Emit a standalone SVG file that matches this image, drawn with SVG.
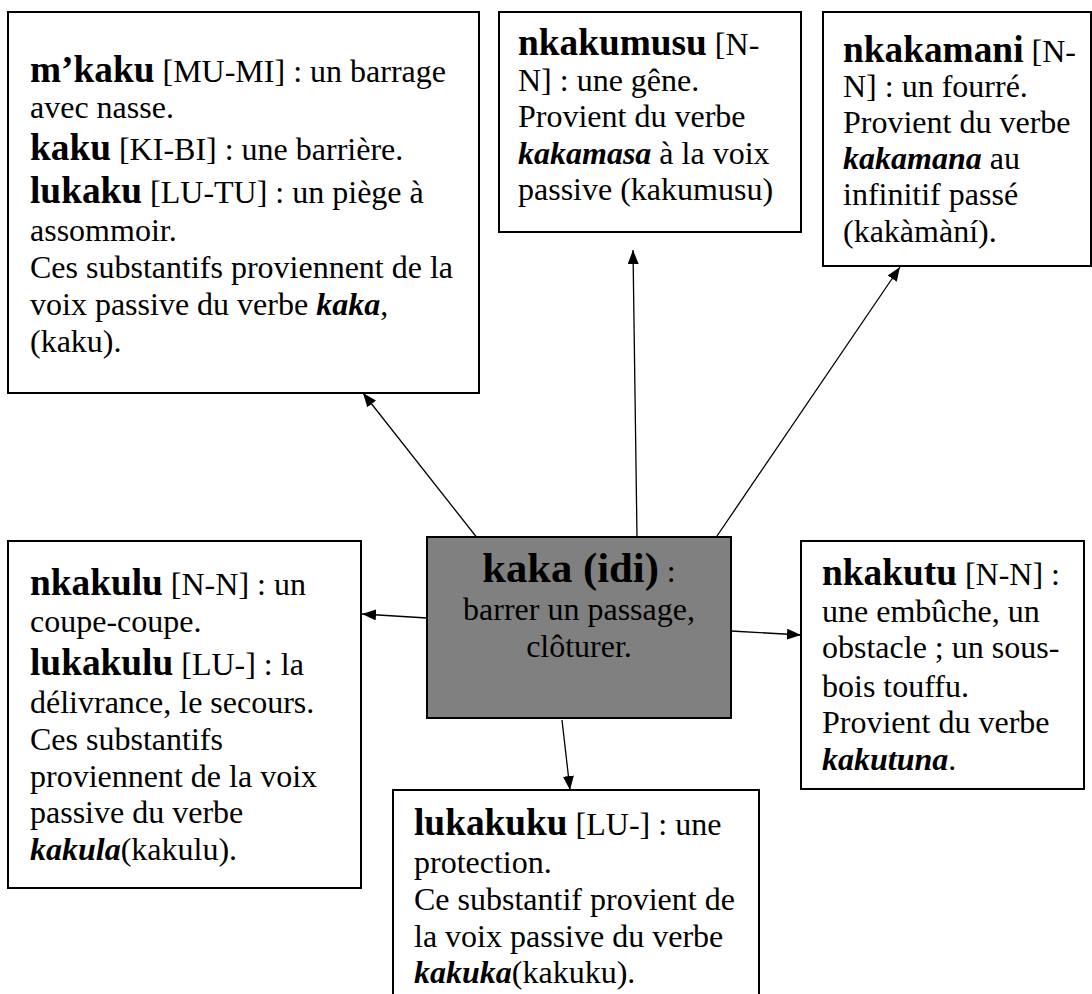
<svg xmlns="http://www.w3.org/2000/svg" width="1092" height="994" viewBox="0 0 1092 994">
<style>
.box{fill:#fff;stroke:#000;stroke-width:2}
.center{fill:#808080;stroke:#000;stroke-width:2}
text{font-family:"Liberation Serif","Times New Roman",serif;font-size:32px;fill:#000}
.b{font-weight:bold;font-size:37.33px}
.bt{font-weight:bold;font-size:42.67px}
.bi{font-weight:bold;font-style:italic}
.conn line{stroke:#000;stroke-width:1.3;marker-end:url(#ah)}
</style>
<defs>
<marker id="ah" markerUnits="userSpaceOnUse" markerWidth="15" markerHeight="12" refX="14" refY="5.5" orient="auto">
<path d="M0,0 L14,5.5 L0,11 z" fill="#000"/>
</marker>
</defs>
<g id="connectors" class="conn">
<line x1="478" y1="539" x2="363" y2="393"/>
<line x1="637" y1="537" x2="633" y2="250"/>
<line x1="717" y1="536" x2="900" y2="267"/>
<line x1="427" y1="618" x2="362" y2="614"/>
<line x1="731" y1="631" x2="801" y2="635"/>
<line x1="562" y1="720" x2="570" y2="790"/>
</g>
<g id="node-mkaku">
<rect class="box" x="8" y="12" width="471" height="381"/>
<text x="30" y="82"><tspan class="b">m’kaku</tspan> [MU-MI] : un barrage</text>
<text x="30" y="118">avec nasse.</text>
<text x="30" y="160"><tspan class="b">kaku</tspan> [KI-BI] : une barrière.</text>
<text x="30" y="203"><tspan class="b">lukaku</tspan> [LU-TU] : un piège à</text>
<text x="30" y="241">assommoir.</text>
<text x="30" y="278">Ces substantifs proviennent de la</text>
<text x="30" y="315">voix passive du verbe <tspan class="bi">kaka</tspan>,</text>
<text x="30" y="352">(kaku).</text>
</g>
<g id="node-nkakumusu">
<rect class="box" x="499" y="12" width="302" height="220"/>
<text x="518" y="55"><tspan class="b">nkakumusu</tspan> [N-</text>
<text x="518" y="91">N] : une gêne.</text>
<text x="518" y="127">Provient du verbe</text>
<text x="518" y="164"><tspan class="bi">kakamasa</tspan> à la voix</text>
<text x="518" y="200">passive (kakumusu)</text>
</g>
<g id="node-nkakamani">
<rect class="box" x="823" y="12" width="268" height="254"/>
<text x="843" y="62"><tspan class="b">nkakamani</tspan> [N-</text>
<text x="843" y="97">N] : un fourré.</text>
<text x="843" y="133">Provient du verbe</text>
<text x="843" y="169"><tspan class="bi">kakamana</tspan> au</text>
<text x="843" y="205">infinitif passé</text>
<text x="843" y="242">(kakàmàní).</text>
</g>
<g id="node-kaka">
<rect class="center" x="427" y="537" width="304" height="181"/>
<text x="579" y="582" text-anchor="middle"><tspan class="bt">kaka (idi)</tspan> :</text>
<text x="579" y="620" text-anchor="middle">barrer un passage,</text>
<text x="579" y="657" text-anchor="middle">clôturer.</text>
</g>
<g id="node-nkakulu">
<rect class="box" x="8" y="541" width="353" height="347"/>
<text x="30" y="595"><tspan class="b">nkakulu</tspan> [N-N] : un</text>
<text x="30" y="632">coupe-coupe.</text>
<text x="30" y="675"><tspan class="b">lukakulu</tspan> [LU-] : la</text>
<text x="30" y="713">délivrance, le secours.</text>
<text x="30" y="750">Ces substantifs</text>
<text x="30" y="787">proviennent de la voix</text>
<text x="30" y="823">passive du verbe</text>
<text x="30" y="860"><tspan class="bi">kakula</tspan>(kakulu).</text>
</g>
<g id="node-nkakutu">
<rect class="box" x="801" y="541" width="283" height="248"/>
<text x="822" y="585"><tspan class="b">nkakutu</tspan> [N-N] :</text>
<text x="822" y="622">une embûche, un</text>
<text x="822" y="658">obstacle ; un sous-</text>
<text x="822" y="697">bois touffu.</text>
<text x="822" y="733">Provient du verbe</text>
<text x="822" y="770"><tspan class="bi">kakutuna</tspan>.</text>
</g>
<g id="node-lukakuku">
<rect class="box" x="393" y="790" width="366" height="220"/>
<text x="414" y="835"><tspan class="b">lukakuku</tspan> [LU-] : une</text>
<text x="414" y="873">protection.</text>
<text x="414" y="910">Ce substantif provient de</text>
<text x="414" y="947">la voix passive du verbe</text>
<text x="414" y="983"><tspan class="bi">kakuka</tspan>(kakuku).</text>
</g>
</svg>
